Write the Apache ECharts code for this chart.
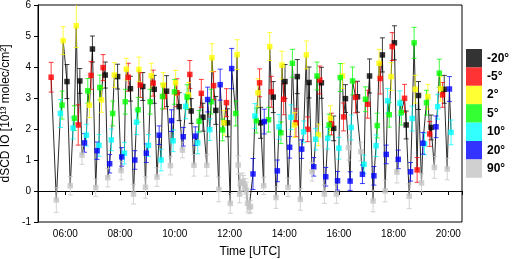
<!DOCTYPE html>
<html><head><meta charset="utf-8">
<script src="https://cdn.jsdelivr.net/npm/echarts@6/dist/echarts.min.js"></script>
<style>html,body{margin:0;padding:0;background:#fff}#c{width:512px;height:259px}</style>
</head><body><div id="c"></div>
<script>
// elevation angles (legend order) and colours
const elevNames = ['-20°','-5°','2°','5°','10°','20°','90°'];
const elevColors = ['#000000','#ff0000','#ffff00','#00ff00','#00ffff','#0000ff','#c4c4c4'];

// -20°
const tM20 = [6.06,6.53,6.99,7.46,7.91,8.38,8.83,9.25,9.70,10.16,10.60,11.03,11.50,11.93,13.14,13.60,14.03,14.48,14.91,15.36,15.81,16.24,16.68,17.12,17.59,18.03,18.46,18.91,19.37,19.85];
const vM20 = [3.53,3.55,4.58,3.74,3.69,3.30,3.37,3.28,3.22,2.72,2.58,2.38,2.60,2.20,2.20,3.03,3.53,3.69,3.50,3.49,2.02,2.98,3.04,3.71,4.39,4.78,2.13,3.08,2.05,3.28];
const eM20 = [0.55,0.40,0.42,0.42,0.40,0.40,0.45,0.45,0.50,0.45,0.40,0.45,0.45,0.45,0.50,0.50,0.55,0.55,0.50,0.50,0.40,0.45,0.50,0.55,0.55,0.55,0.45,0.45,0.40,0.45];
// -5°
const tM5 = [5.48,6.47,6.94,7.38,8.30,8.74,9.21,9.62,10.08,10.55,10.97,11.42,11.89,13.10,13.53,13.98,14.43,14.86,15.30,15.73,16.17,16.61,17.05,17.51,17.95,18.40,18.86,19.32,19.79];
const vM5 = [3.67,2.13,3.73,3.98,3.67,3.42,3.48,3.05,3.17,3.76,3.15,3.40,2.85,3.49,3.20,2.96,2.20,1.99,3.58,2.16,2.39,3.02,2.80,3.63,4.66,2.99,0.68,1.84,3.10];
const eM5 = [0.48,0.65,0.45,0.42,0.45,0.40,0.42,0.40,0.45,0.45,0.45,0.45,0.45,0.45,0.50,0.50,0.45,0.40,0.45,0.35,0.45,0.50,0.45,0.50,0.45,0.45,0.40,0.40,0.40];
// 2°
const t2 = [5.92,6.40,6.88,7.32,7.79,8.23,8.69,9.14,9.58,10.03,10.50,11.36,11.80,12.28,13.04,13.47,13.92,14.38,14.81,15.25,15.69,16.13,17.47,17.91,18.79,19.25,19.72];
const v2 = [4.85,5.33,2.77,2.94,3.74,3.93,3.92,3.72,3.42,3.49,3.10,4.30,2.20,4.40,3.17,4.66,4.06,2.13,4.39,1.81,2.35,3.71,4.12,3.69,3.28,3.04,3.30];
const e2 = [0.45,0.70,0.40,0.40,0.40,0.35,0.40,0.40,0.40,0.40,0.40,0.45,0.40,0.48,0.45,0.45,0.45,0.40,0.45,0.35,0.40,0.40,0.45,0.45,0.45,0.40,0.40];
// 5°
const t5 = [5.88,6.33,6.82,7.26,7.73,8.19,8.66,9.10,9.55,9.99,10.45,10.89,11.33,11.75,12.23,12.98,13.43,13.88,14.30,15.20,15.64,16.05,16.50,16.97,17.40,17.84,18.28,18.75,19.20,19.67];
const v5 = [2.77,2.35,3.23,3.34,2.50,2.88,2.62,2.88,3.05,3.20,3.03,2.25,2.88,1.97,2.50,2.27,2.30,1.88,4.12,3.71,2.13,3.66,3.55,2.96,2.11,2.46,2.53,4.78,2.85,3.80];
const e5 = [0.45,0.40,0.40,0.40,0.40,0.40,0.40,0.40,0.40,0.40,0.40,0.35,0.40,0.35,0.40,0.40,0.40,0.35,0.45,0.45,0.35,0.45,0.45,0.40,0.40,0.40,0.40,0.50,0.40,0.45];
// 10°
const t10 = [5.82,6.28,6.77,7.23,7.68,8.16,8.60,9.04,9.50,9.94,10.40,10.84,11.28,12.93,13.81,14.25,14.71,15.15,15.59,16.00,16.45,16.92,17.36,17.78,18.23,18.68,19.13,19.61,20.10];
const v10 = [2.50,2.03,1.80,1.47,1.65,1.22,2.22,1.47,1.00,1.62,2.73,1.55,1.98,2.42,2.07,2.38,1.91,1.67,1.70,1.38,2.05,0.86,1.46,2.91,2.83,2.34,1.52,2.72,1.89];
const e10 = [0.45,0.35,0.35,0.35,0.35,0.35,0.40,0.35,0.35,0.35,0.40,0.35,0.35,0.40,0.40,0.40,0.35,0.35,0.35,0.35,0.40,0.30,0.35,0.40,0.40,0.40,0.35,0.40,0.40];
// 20°
const t20 = [6.70,7.16,7.62,8.06,8.54,8.96,9.43,9.88,10.31,10.75,11.20,11.66,12.08,12.86,13.27,13.75,14.20,14.64,15.08,15.52,15.95,16.41,16.86,17.28,17.73,18.17,18.62,19.07,19.55,20.04];
const v20 = [1.55,1.30,0.88,1.10,1.00,1.22,1.80,2.27,1.75,1.77,2.95,3.43,3.95,0.55,2.24,0.65,1.41,1.35,0.78,0.46,0.33,0.32,0.54,0.49,1.18,1.02,0.62,1.54,2.07,3.29];
const e20 = [0.30,0.28,0.30,0.30,0.30,0.30,0.30,0.35,0.30,0.30,0.40,0.50,0.65,0.50,0.40,0.35,0.35,0.30,0.30,0.30,0.30,0.30,0.30,0.30,0.30,0.30,0.30,0.35,0.35,0.40];
// 90°
const t90 = [5.67,6.18,6.61,7.11,7.55,8.04,8.49,8.93,9.35,9.84,10.28,10.70,11.17,11.61,12.03,12.32,12.37,12.40,12.47,12.52,12.57,12.62,12.66,12.72,12.77,13.25,13.70,14.14,14.59,15.02,15.47,15.91,16.35,16.80,17.25,17.69,18.12,18.57,19.02,19.49,19.96];
const v90 = [-0.29,0.17,1.16,0.11,0.43,0.66,-0.10,0.12,0.45,0.82,1.32,0.83,0.83,0.05,-0.40,0.84,-0.10,0.27,0.30,0.25,0.15,0.03,-0.40,-0.53,-0.50,0.17,-0.21,0.12,-0.27,0.62,-0.10,-0.10,1.40,1.27,-0.32,0.00,0.61,-0.17,0.26,0.76,0.71];
const e90 = [0.40,0.30,0.30,0.28,0.30,0.30,0.32,0.35,0.30,0.30,0.25,0.35,0.35,0.40,0.32,0.30,0.28,0.28,0.28,0.25,0.25,0.25,0.28,0.20,0.20,0.28,0.35,0.30,0.35,0.30,0.30,0.30,0.40,0.30,0.35,0.35,0.35,0.40,0.30,0.35,0.35];

const seriesT = [tM20,tM5,t2,t5,t10,t20,t90];
const seriesV = [vM20,vM5,v2,v5,v10,v20,v90];
const seriesE = [eM20,eM5,e2,e5,e10,e20,e90];

const chart = echarts.init(document.getElementById('c'), null, {renderer:'canvas'});
const font = 'Arial, "Liberation Sans", sans-serif';

const series = [];
const all = [];
elevNames.forEach((nm, i) => {
  const pts = seriesT[i].map((t, j) => [t, seriesV[i][j], seriesE[i][j]]);
  pts.forEach(p => all.push([p[0], p[1]]));
  series.push({
    name: nm + ' err', type: 'custom', z: 2, clip: true,
    encode: {x: 0, y: 1},
    data: pts,
    renderItem: (params, api) => {
      const x = api.value(0), y = api.value(1), e = api.value(2);
      const top = api.coord([x, y + e]);
      const bot = api.coord([x, y - e]);
      const hw = 2.5;
      const st = {stroke: elevColors[i], lineWidth: 1, opacity: 0.75};
      return {type: 'group', children: [
        {type: 'line', shape: {x1: top[0], y1: top[1], x2: bot[0], y2: bot[1]}, style: st},
        {type: 'line', shape: {x1: top[0]-hw, y1: top[1], x2: top[0]+hw, y2: top[1]}, style: st},
        {type: 'line', shape: {x1: bot[0]-hw, y1: bot[1], x2: bot[0]+hw, y2: bot[1]}, style: st}
      ]};
    }
  });
  series.push({
    name: nm, type: 'scatter', z: 3, symbol: 'rect', symbolSize: 5.5,
    itemStyle: {color: elevColors[i]},
    data: pts.map(p => [p[0], p[1]])
  });
});
all.sort((a, b) => a[0] - b[0]);
series.unshift({
  name: 'trace', type: 'line', z: 1, data: all, showSymbol: false, symbol: 'none',
  lineStyle: {color: '#2a2a2a', width: 1}, silent: true
});

chart.setOption({
  animation: false,
  backgroundColor: '#fff',
  grid: {left: 38, right: 50, top: 5, bottom: 37, containLabel: false, outerBoundsMode: 'none',
         show: true, borderColor: '#000', borderWidth: 1, backgroundColor: 'transparent'},
  legend: {
    orient: 'vertical', left: 466, top: 49, padding: 0,
    itemWidth: 16, itemHeight: 18.4, itemGap: 0, icon: 'rect',
    data: elevNames,
    textStyle: {fontFamily: font, fontSize: 12, fontWeight: 'bold', color: '#000', padding: [0,0,0,0]}
  },
  xAxis: {
    type: 'value', min: 5, max: 20.5, interval: 1,
    axisLine: {lineStyle: {color: '#000', width: 1}},
    axisTick: {show: true, length: 4, lineStyle: {color: '#000'}},
    splitLine: {show: false},
    axisLabel: {
      fontFamily: font, fontSize: 10, color: '#000', margin: 7,
      showMinLabel: true, showMaxLabel: true,
      formatter: v => (v >= 6 && Math.abs(v % 2) < 1e-9) ? ((v < 10 ? '0' : '') + v + ':00') : ''
    },
    name: 'Time [UTC]', nameLocation: 'middle', nameGap: 24,
    nameTextStyle: {fontFamily: font, fontSize: 12, color: '#000'}
  },
  yAxis: {
    type: 'value', min: -1, max: 6, interval: 1,
    axisLine: {show: true, lineStyle: {color: '#000', width: 1}},
    axisTick: {show: true, length: 4, lineStyle: {color: '#000'}},
    splitLine: {show: false},
    axisLabel: {fontFamily: font, fontSize: 10, color: '#000', margin: 7},
    name: 'dSCD IO [10¹³ molec/cm²]', nameLocation: 'middle', nameGap: 20,
    nameTextStyle: {fontFamily: font, fontSize: 12, color: '#000'}
  },
  series: series
});
</script>
</body></html>
